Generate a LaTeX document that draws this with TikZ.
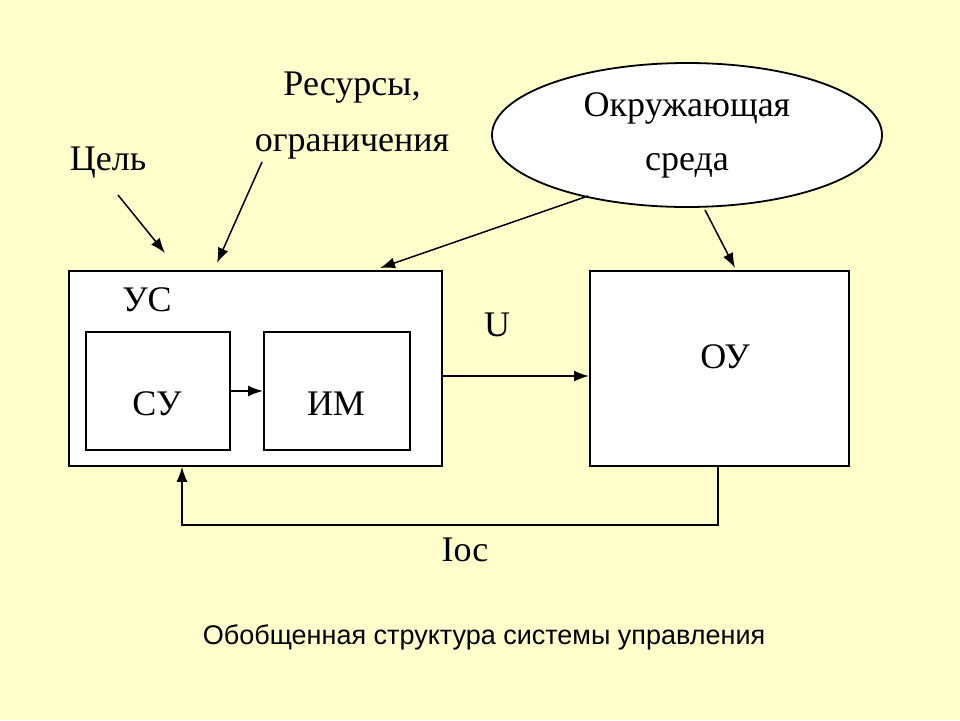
\documentclass[tikz,border=0pt]{standalone}
\usepackage{fontspec}
\setmainfont{Liberation Serif}
\newfontfamily\capfont{Liberation Sans}
\usetikzlibrary{arrows.meta,shapes.geometric}
\begin{document}
\begin{tikzpicture}[x=1pt,y=-1pt,
  box/.style={draw,line width=1.8pt,fill=white},
  arr/.style={line width=1.5pt,-{Latex[length=15pt,width=11pt]}},
  lbl/.style={font=\fontsize{36}{36}\selectfont,inner sep=0pt}]
\fill[fill={rgb,255:red,255;green,255;blue,204}] (0,0) rectangle (960,720);
\useasboundingbox (0,0) rectangle (960,720);
\node[box,minimum width=373pt,minimum height=195pt,anchor=north west,inner sep=0pt] (us) at (68,270) {};
\node[box,minimum width=144pt,minimum height=118pt,anchor=north west,inner sep=0pt] (su) at (85,331) {};
\node[box,minimum width=146pt,minimum height=118pt,anchor=north west,inner sep=0pt] (im) at (263,331) {};
\node[box,minimum width=259pt,minimum height=195pt,anchor=north west,inner sep=0pt] (ou) at (589,270) {};
\node[box,ellipse,minimum width=390pt,minimum height=144pt] (env) at (687,135) {};
\node[lbl] (tus) at (147,300) {УС};
\node[lbl] (tsu) at (157,404) {СУ};
\node[lbl] (tim) at (336,404) {ИМ};
\node[lbl] (tou) at (725,357) {ОУ};
\node[lbl] (tenv1) at (687,108) {Окружающая};
\node[lbl] (tenv2) at (687,166) {среда};
\node[lbl] (tu) at (497,325) {U};
\node[lbl] (tioc) at (465,550) {Iос};
\node[lbl] (goal) at (108,163) {Цель};
\node[lbl] (res1) at (352,88) {Ресурсы,};
\node[lbl] (res2) at (352,147) {ограничения};
\node[font=\capfont\fontsize{27}{27}\selectfont,inner sep=0pt] (cap) at (484,637) {Обобщенная структура системы управления};
\coordinate (g0) at (118,195); \coordinate (g1) at (165,253);
\coordinate (r0) at (262,162); \coordinate (r1) at (217,263);
\coordinate (e0) at (588,196); \coordinate (e1) at (380,268);
\coordinate (f0) at (705,210); \coordinate (f1) at (735,268);
\draw[arr] (g0) -- (g1);
\draw[arr] (r0) -- (r1);
\draw[arr] (e0) -- (e1);
\draw[arr] (f0) -- (f1);
\draw[arr] (su.east |- 0,391) -- (im.west |- 0,391);
\draw[arr] (us.east |- 0,376) -- (ou.west |- 0,376);
\draw[arr] (ou.south -| 718,0) -- (718,525) -- (182,525) -- (us.south -| 182,0);
\end{tikzpicture}
\end{document}
